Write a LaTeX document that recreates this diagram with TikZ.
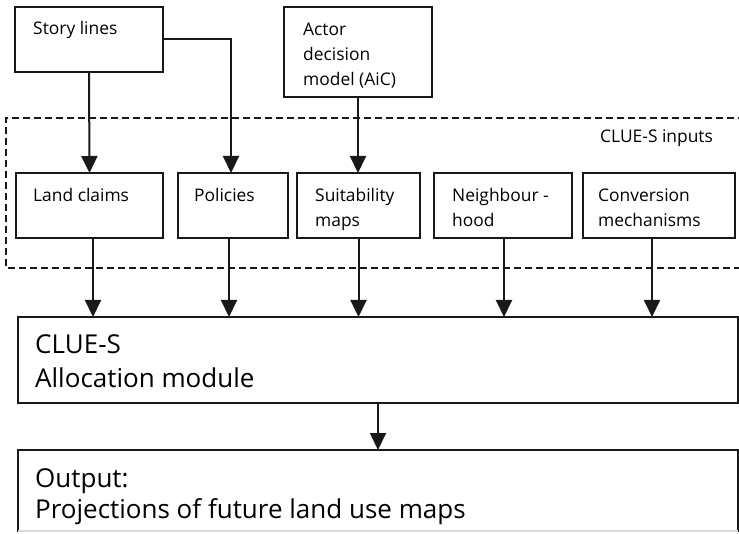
\documentclass[tikz,border=0pt]{standalone}
\usepackage{fontspec}
\setmainfont{Open Sans}
\usetikzlibrary{arrows.meta,calc}
\begin{document}
\begin{tikzpicture}[x=1pt,y=-1pt,
  box/.style={draw=black!90,line width=1.7pt,inner sep=0pt,outer sep=0pt,anchor=north west},
  txt/.style={anchor=base west,inner sep=0pt,font=\fontsize{17.4}{25}\selectfont,align=left},
  big/.style={anchor=base west,inner sep=0pt,font=\fontsize{26}{34}\selectfont,align=left},
  arr/.style={draw=black!90,line width=2pt,-{Triangle[length=17pt,width=16pt]}},
  dashbox/.style={draw=black!90,line width=1.2pt,dash pattern=on 7pt off 4pt}]
\useasboundingbox (0,0) rectangle (739,534);
% dashed region
\coordinate (dtr) at (745,118);
\coordinate (dtl) at (6,118);
\coordinate (dbl) at (6,268);
\coordinate (dbr) at (745,268);
\draw[dashbox] (dtr) -- (dtl) -- (dbl) -- (dbr);
\node[txt] (inputs) at (600,143) {CLUE-S inputs};
% top boxes
\node[box,minimum width=148pt,minimum height=65pt] (sl) at (15,7) {};
\node[txt] (slt) at (33,35) {Story lines};
\node[box,minimum width=148pt,minimum height=90pt] (ac) at (284,7) {};
\node[txt] (act) at (303,86) {Actor\\decision\\model (AiC)};
% input row
\node[box,minimum width=147pt,minimum height=65pt] (lc) at (16,173) {};
\node[txt] (lct) at (33,202) {Land claims};
\node[box,minimum width=110pt,minimum height=65pt] (pol) at (178,173) {};
\node[txt] (polt) at (194,202) {Policies};
\node[box,minimum width=123pt,minimum height=65pt] (suit) at (297,173) {};
\node[txt] (suitt) at (315,227) {Suitability\\maps};
\node[box,minimum width=138pt,minimum height=65pt] (nb) at (434,173) {};
\node[txt] (nbt) at (452,227) {Neighbour -\\hood};
\node[box,minimum width=152pt,minimum height=65pt] (cv) at (583,173) {};
\node[txt] (cvt) at (598,227) {Conversion\\mechanisms};
% bottom boxes
\node[box,minimum width=720pt,minimum height=86pt] (clue) at (18,317) {};
\node[big] (cluet) at (35,388) {CLUE-S\\Allocation module};
\node[box,minimum width=720pt,minimum height=81pt] (out) at (18,450) {};
\draw[draw=black!15,line width=1.7pt] (out.south west) -- (out.south east);
\node[big] (outt) at (35,518) {Output:\\[-3pt]Projections of future land use maps};
% connectors
\draw[arr] (sl.south) -- (lc.north);
\coordinate (slbend) at ([xshift=-2pt]pol.north |- sl.east);
\draw[arr] (sl.east) -- (slbend) -- ([xshift=-2pt]pol.north);
\draw[arr] (ac.south) -- (ac.south |- suit.north);
\draw[arr] ([xshift=3.5pt]lc.south) -- ([xshift=3.5pt]lc.south |- clue.north);
\draw[arr] ([xshift=-4pt]pol.south) -- ([xshift=-4pt]pol.south |- clue.north);
\draw[arr] (suit.south) -- (suit.south |- clue.north);
\draw[arr] ([xshift=1pt]nb.south) -- ([xshift=1pt]nb.south |- clue.north);
\draw[arr] ([xshift=-7pt]cv.south) -- ([xshift=-7pt]cv.south |- clue.north);
\draw[arr] (clue.south) -- (out.north);
\end{tikzpicture}
\end{document}
